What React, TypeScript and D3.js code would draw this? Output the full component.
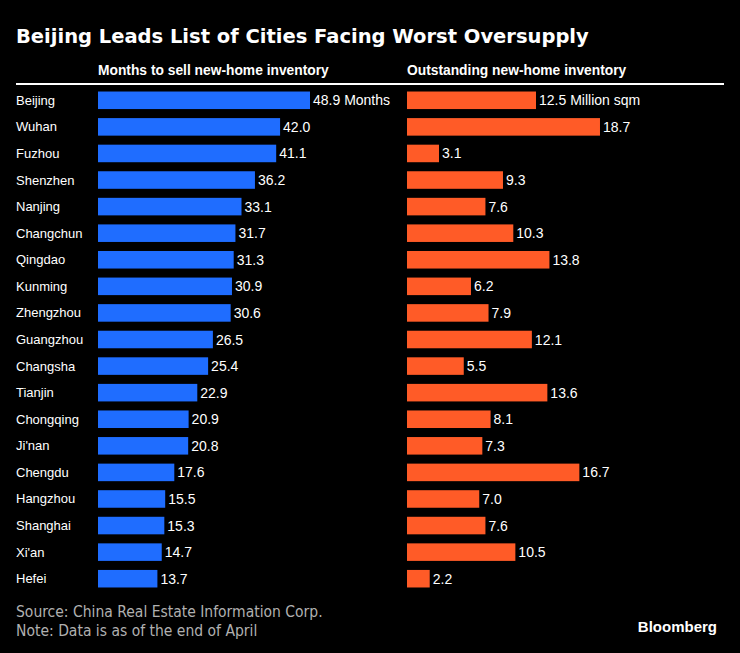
import * as d3 from "d3";

const cities = ["Beijing", "Wuhan", "Fuzhou", "Shenzhen", "Nanjing", "Changchun", "Qingdao", "Kunming", "Zhengzhou", "Guangzhou", "Changsha", "Tianjin", "Chongqing", "Ji'nan", "Chengdu", "Hangzhou", "Shanghai", "Xi'an", "Hefei"];
const months = [48.9, 42.0, 41.1, 36.2, 33.1, 31.7, 31.3, 30.9, 30.6, 26.5, 25.4, 22.9, 20.9, 20.8, 17.6, 15.5, 15.3, 14.7, 13.7];
const inventory = [12.5, 18.7, 3.1, 9.3, 7.6, 10.3, 13.8, 6.2, 7.9, 12.1, 5.5, 13.6, 8.1, 7.3, 16.7, 7.0, 7.6, 10.5, 2.2];

const W = 740;
const H = 653;
const BLUE = "#1f6dff";
const ORANGE = "#ff5b27";
const labelFont = "'Liberation Sans', Arial, sans-serif";
const noteFont = "'DejaVu Sans Condensed', 'DejaVu Sans', sans-serif";

export default function App() {
  const y = d3.scaleBand<string>().domain(cities).range([87, 592]).paddingInner(0.34).paddingOuter(0.17);
  const xLeft = d3.scaleLinear().domain([0, 48.9]).range([98, 310]);
  const xRight = d3.scaleLinear().domain([0, 12.5]).range([407, 536]);

  return (
    <div style={{ position: "absolute", left: 0, top: 0 }}>
      <svg width={W} height={H} style={{ display: "block", background: "#000" }}>
        <rect width={W} height={H} fill="#000" />
        <text x={16} y={43} fill="#fff" fontFamily="'DejaVu Sans', Verdana, sans-serif" fontWeight="bold" fontSize={19.5}>
          Beijing Leads List of Cities Facing Worst Oversupply
        </text>
        <text x={98} y={75} fill="#fff" fontFamily={labelFont} fontWeight="bold" fontSize={13.8}>
          Months to sell new-home inventory
        </text>
        <text x={407} y={75} fill="#fff" fontFamily={labelFont} fontWeight="bold" fontSize={13.8}>
          Outstanding new-home inventory
        </text>
        <line x1={16} x2={724} y1={84} y2={84} stroke="#fff" strokeWidth={2} />
        {cities.map((c, i) => {
          const top = y(c)!;
          const mid = top + y.bandwidth() / 2;
          return (
            <g key={c}>
              <text x={16} y={mid + 4.5} fill="#fff" fontFamily={labelFont} fontSize={13}>{c}</text>
              <rect x={xLeft(0)} y={top} width={xLeft(months[i]) - xLeft(0)} height={y.bandwidth()} fill={BLUE} />
              <text x={xLeft(months[i]) + 3} y={mid + 5} fill="#fff" fontFamily={labelFont} fontSize={14}>
                {months[i].toFixed(1) + (i === 0 ? " Months" : "")}
              </text>
              <rect x={xRight(0)} y={top} width={xRight(inventory[i]) - xRight(0)} height={y.bandwidth()} fill={ORANGE} />
              <text x={xRight(inventory[i]) + 3} y={mid + 5} fill="#fff" fontFamily={labelFont} fontSize={14}>
                {inventory[i].toFixed(1) + (i === 0 ? " Million sqm" : "")}
              </text>
            </g>
          );
        })}
        <text x={16} y={617} fill="#b0b0b0" fontFamily={noteFont} fontStretch="condensed" fontSize={15.5}>
          Source: China Real Estate Information Corp.
        </text>
        <text x={16} y={636} fill="#b0b0b0" fontFamily={noteFont} fontStretch="condensed" fontSize={15.5}>
          Note: Data is as of the end of April
        </text>
        <text x={717} y={632} textAnchor="end" fill="#fff" fontFamily={labelFont} fontWeight="bold" fontSize={15}>
          Bloomberg
        </text>
      </svg>
    </div>
  );
}
